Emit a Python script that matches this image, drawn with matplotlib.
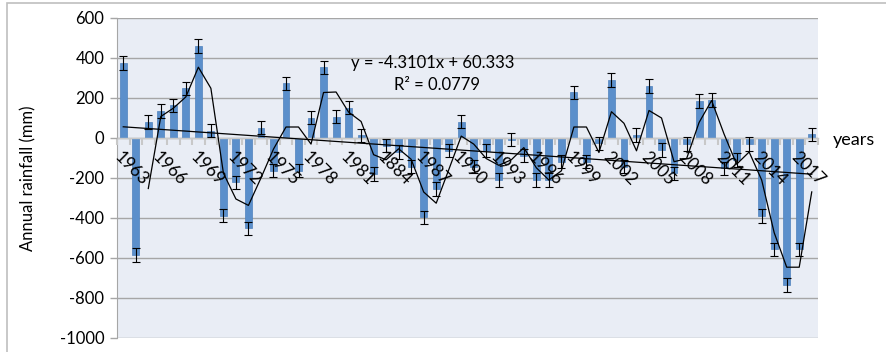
import numpy as np
import pandas as pd
import matplotlib
matplotlib.use("Agg")
import matplotlib.pyplot as plt
from matplotlib.patches import Rectangle

years = list(range(1963, 2019))
rainfall = [375, -585, 80, 135, 163, 248, 460, 37, -388, -222,
            -452, 52, -163, 273, -163, 102, 353, 107, 152, 13,
            -180, -38, -70, -143, -397, -255, -63, 82, -143, -63,
            -210, -8, -88, -210, -210, -118, 228, -118, -27, 290,
            -143, 15, 260, -60, -177, -30, 185, 190, -152, -110,
            -30, -390, -557, -735, -557, 18]
err = 33
tick_labels = ["1963", "1966", "1969", "1972", "1975", "1978", "1981", "1884",
               "1987", "1990", "1993", "1996", "1999", "2002", "2005", "2008",
               "2011", "2014", "2017"]
slope, intercept = -4.3101, 60.333
r2 = 0.0779
yticks = [600, 400, 200, 0, -200, -400, -600, -800, -1000]

plt.rcParams['font.family'] = ['Lato', 'DejaVu Sans']

fig = plt.figure(figsize=(8.86, 3.52), dpi=100)
fig.patch.set_facecolor('white')
fig.add_artist(Rectangle((7/886, -0.05), 1.1, 1 - 3/352 + 0.05, transform=fig.transFigure,
                         fill=False, edgecolor='#BFBFBF', lw=1.2))
ax = fig.add_axes([117/886, 14/352, 701/886, 320/352])
ax.set_facecolor('#E9EDF5')
ax.set_axisbelow(False)

x = np.arange(len(years))
vals = np.array(rainfall, dtype=float)

for v in yticks:
    ax.axhline(v, color='#A6A6A6', lw=1, zorder=1)

ax.bar(x, vals, width=0.55, color='#5B8FCB', edgecolor='#4F81BD', lw=0.5, zorder=1.5)
ax.errorbar(x, vals, yerr=err, fmt='none', ecolor='black', elinewidth=0.8,
            capsize=3, capthick=0.8, zorder=4)

ma = pd.Series(vals).rolling(2).mean()
ax.plot(x[2:], ma.values[2:], color='black', lw=0.9, zorder=5)

xi = np.arange(1, len(years) + 1)
ax.plot(x, slope * xi + intercept, color='black', lw=0.9, zorder=5)

ax.text(24.7, 375, f"y = {slope}x + {intercept}", fontsize=12, ha='center', va='center', zorder=6)
ax.text(25.1, 265, f"R² = {r2}", fontsize=12, ha='center', va='center', zorder=6)

ax.set_xlim(-0.5, len(years) - 0.5)
ax.set_ylim(-1000, 600)
ax.set_yticks(yticks)
ax.set_yticklabels([str(v) for v in yticks], fontsize=12)

ax.spines['bottom'].set_position(('data', 0))
ax.spines['bottom'].set_color('#C8C8C8')
ax.spines['bottom'].set_linewidth(1)
ax.spines['top'].set_visible(False)
ax.spines['right'].set_visible(False)
ax.spines['left'].set_color('#A6A6A6')
ax.tick_params(axis='y', length=5, color='#A6A6A6', width=1, pad=4)

major_pos = [years.index(int(t)) if t != "1884" else years.index(1984) for t in tick_labels]
ax.set_xticks(major_pos)
ax.set_xticklabels(tick_labels, fontsize=12.5, rotation=-45, rotation_mode='anchor',
                   ha='left', va='top')
ax.tick_params(axis='x', which='major', length=0, pad=8)
ax.set_xticks(np.arange(-0.5, len(years), 1), minor=True)
ax.tick_params(axis='x', which='minor', length=5, color='#C8C8C8', width=1.5)

ax.set_ylabel("Annual rainfall (mm)", fontsize=12, labelpad=8)
ax.yaxis.set_label_coords(-0.115, 0.5)
fig.text(833/886, 1 - 140/352, "years", fontsize=13, ha='left', va='center')

fig.savefig("out.png", dpi=100)
